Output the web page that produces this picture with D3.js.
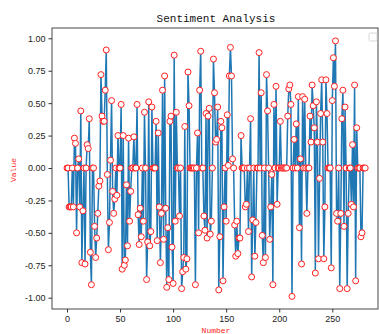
<!DOCTYPE html>
<html><head><meta charset="utf-8">
<script src="https://cdn.jsdelivr.net/npm/d3@7"></script>
<style>body{margin:0;background:#fff}svg{display:block}</style>
</head><body>
<svg id="c" width="379" height="334"></svg>
<script>
const values = [
0,0,-0.3,-0.3,-0.3,0,-0.3,0.23,0.19,-0.5,
0,0.07,-0.3,0.44,-0.73,-0.33,0,-0.74,0,0.18,
0.15,0.38,-0.65,-0.9,0,0,-0.45,-0.69,-0.54,-0.35,
-0.14,-0.1,0.72,0.4,0.36,0.36,0.6,0.91,-0.05,-0.63,
-0.42,0.06,0.52,-0.18,-0.35,-0.24,0,-0.21,0.25,0,
0,0.49,-0.78,0.25,-0.75,-0.71,-0.13,-0.6,0.23,-0.41,
-0.18,0,0,0.24,0,0,0.49,-0.36,-0.59,-0.31,
-0.53,0,-0.41,0.43,0,-0.86,-0.57,0.51,-0.6,-0.49,
0.47,0,0,0,0.36,-0.56,0.27,-0.3,-0.73,-0.35,
0.6,-0.55,0.71,-0.31,-0.92,-0.46,-0.86,0.36,0.4,-0.61,
-0.89,0.87,-0.41,0.43,0,0,-0.37,0,-0.93,-0.8,
-0.69,0.32,-0.78,-0.7,0.74,0.48,0,0,0,0,
0,-0.9,0,0.27,-0.5,0.6,0.9,0,0,-0.37,
-0.48,0.42,-0.54,0.4,0.46,-0.51,-0.41,0,0.84,0.58,
0.2,0.22,0.47,-0.94,-0.53,0.36,0.31,-0.87,-0.3,0,
-0.41,0.41,0.02,0.71,0.93,0.71,0.07,0,-0.44,-0.68,
-0.41,-0.66,-0.54,-0.54,0.25,0,0,0,-0.3,-0.28,
0,-0.49,0,0.38,-0.84,-0.4,0,-0.68,-0.42,0,
0,0.89,0,0.58,-0.52,-0.73,0,-0.69,0.72,0.44,
0,-0.55,-0.3,-0.05,-0.9,0.49,0,0.63,-0.28,0,
0,0.36,0,0,0,0,0,0,0.4,0.61,
0.64,0.49,-0.99,0,0.22,0,0.34,0,0.55,-0.46,
0.07,-0.74,0.55,0,0.53,0,-0.35,0,0,0.4,
0.2,0.64,0.48,0.31,-0.81,0.51,0.2,-0.7,-0.08,0.42,
0.68,0.2,-0.7,-0.3,0.68,0.42,0,0,0,-0.77,
0.52,0.85,0.63,0.98,-0.35,-0.41,0,-0.93,-0.35,0.38,
0.6,-0.45,0.47,0,-0.93,-0.35,0,0,-0.28,0.18,
-0.3,0.64,-0.87,0.31,0,0,0,-0.53,-0.5,0,
0,0
];
const xTicks = [0,50,100,150,200,250];
const yTicks = [-1,-0.75,-0.5,-0.25,0,0.25,0.5,0.75,1];
const title = "Sentiment Analysis";
const xLabel = "Number";
const yLabel = "Value";

const svg = d3.select("#c");
const L = 52, T = 28, R = 378, B = 309;
const x = d3.scaleLinear().domain([0,250]).range([67,332.3]);
const y = d3.scaleLinear().domain([-1,1]).range([297.7,38.3]);

const line = d3.line().x((d,i)=>x(i)).y(d=>y(d));
svg.append("path").datum(values).attr("d",line)
  .attr("fill","none").attr("stroke","#1f77b4").attr("stroke-width",1.5).attr("stroke-linejoin","round");

svg.append("g").selectAll("circle").data(values).join("circle")
  .attr("cx",(d,i)=>x(i)).attr("cy",d=>y(d)).attr("r",3)
  .attr("fill","#fff").attr("stroke","#ff2020").attr("stroke-width",1);

svg.append("rect").attr("x",L).attr("y",T).attr("width",R-L).attr("height",B-T)
  .attr("fill","none").attr("stroke","#333").attr("stroke-width",0.9);

const xa = svg.append("g").attr("transform",`translate(0,${B})`)
  .call(d3.axisBottom(x).tickValues(xTicks).tickSize(3.5).tickPadding(3).tickFormat(d3.format("d")));
const ya = svg.append("g").attr("transform",`translate(${L},0)`)
  .call(d3.axisLeft(y).tickValues(yTicks).tickSize(3.5).tickPadding(3).tickFormat(d=>d3.format(".2f")(d).replace("−","-")));
[xa,ya].forEach(a=>{
  a.select(".domain").remove();
  a.selectAll("line").attr("stroke","#333");
  a.selectAll("text").attr("fill","#222").style("font-family","Liberation Sans, Arial, sans-serif").style("font-size","9px");
});

svg.append("text").attr("x",216).attr("y",22).attr("text-anchor","middle")
  .style("font-family","Liberation Mono, DejaVu Sans Mono, monospace").style("font-size","11px").attr("fill","#111").text(title);
svg.append("text").attr("x",216).attr("y",333).attr("text-anchor","middle")
  .style("font-family","Liberation Mono, monospace").style("font-size","8px").attr("fill","#ff2020").text(xLabel);
svg.append("text").attr("transform","translate(16,170) rotate(-90)").attr("text-anchor","middle")
  .style("font-family","Liberation Mono, monospace").style("font-size","8px").attr("fill","#ff2020").text(yLabel);

svg.append("rect").attr("x",369).attr("y",33).attr("width",8).attr("height",8).attr("rx",1.5)
  .attr("fill","#fff").attr("stroke","#ccc").attr("stroke-width",0.8);
</script>
</body></html>
